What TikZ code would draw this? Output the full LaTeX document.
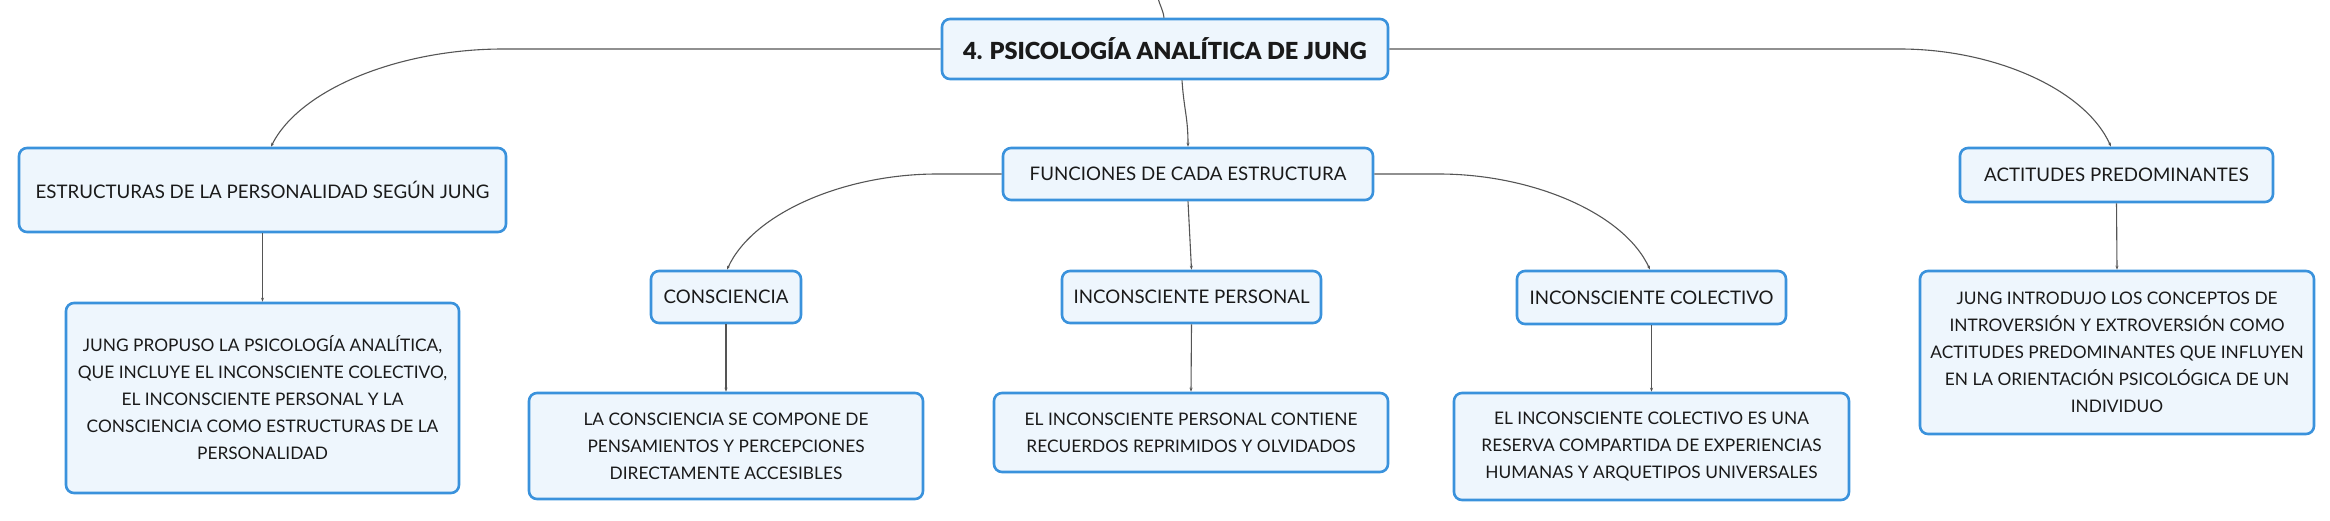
\documentclass[tikz,border=0pt]{standalone}
\usepackage{fontspec}
\setmainfont{Lato}
\newfontfamily\heavyfont{Lato Black}
\usetikzlibrary{arrows.meta}
\definecolor{boxline}{HTML}{3A92DC}
\definecolor{boxfill}{HTML}{EEF6FD}
\definecolor{wire}{HTML}{555555}
\definecolor{ink}{HTML}{1A1A1A}
\begin{document}
\begin{tikzpicture}[x=1pt,y=-1pt,
  topic/.style={draw=boxline, fill=boxfill, line width=2.6pt, rounded corners=8pt,
    text=ink, align=center, inner sep=0pt, anchor=center,
    font=\fontsize{18.7}{27}\selectfont},
  leaf/.style={topic, font=\fontsize{17.3}{27}\selectfont},
  wirestyle/.style={draw=wire, line width=1.1pt, -{Stealth[length=4pt,width=3pt]}}
]
\useasboundingbox (0,0) rectangle (2330,520);

% nodes
\node[topic, minimum width=446pt, minimum height=60pt, font=\fontsize{23.5}{28}\heavyfont] (root) at (1165,49) {4. PSICOLOGÍA ANALÍTICA DE JUNG};
\node[topic, minimum width=370pt, minimum height=52pt] (func) at (1188,174) {FUNCIONES DE CADA ESTRUCTURA};
\node[topic, minimum width=487pt, minimum height=84pt] (estr) at (262.5,190) {ESTRUCTURAS DE LA PERSONALIDAD SEGÚN JUNG};
\node[leaf, minimum width=393pt, minimum height=190pt] (estrc) at (262.5,398) {JUNG PROPUSO LA PSICOLOGÍA ANALÍTICA,\\QUE INCLUYE EL INCONSCIENTE COLECTIVO,\\EL INCONSCIENTE PERSONAL Y LA\\CONSCIENCIA COMO ESTRUCTURAS DE LA\\PERSONALIDAD};
\node[topic, minimum width=150pt, minimum height=52pt] (cons) at (726,297) {CONSCIENCIA};
\node[leaf, minimum width=394pt, minimum height=106pt] (consc) at (726,446) {LA CONSCIENCIA SE COMPONE DE\\PENSAMIENTOS Y PERCEPCIONES\\DIRECTAMENTE ACCESIBLES};
\node[topic, minimum width=259pt, minimum height=52pt] (ip) at (1191.5,297) {INCONSCIENTE PERSONAL};
\node[leaf, minimum width=394pt, minimum height=79pt] (ipc) at (1191,432.5) {EL INCONSCIENTE PERSONAL CONTIENE\\RECUERDOS REPRIMIDOS Y OLVIDADOS};
\node[topic, minimum width=269pt, minimum height=53pt] (ic) at (1651.5,297.5) {INCONSCIENTE COLECTIVO};
\node[leaf, minimum width=395pt, minimum height=107pt] (icc) at (1651.5,446.5) {EL INCONSCIENTE COLECTIVO ES UNA\\RESERVA COMPARTIDA DE EXPERIENCIAS\\HUMANAS Y ARQUETIPOS UNIVERSALES};
\node[topic, minimum width=313pt, minimum height=54pt] (act) at (2116.5,175) {ACTITUDES PREDOMINANTES};
\node[leaf, minimum width=394pt, minimum height=163pt] (actc) at (2117,352.5) {JUNG INTRODUJO LOS CONCEPTOS DE\\INTROVERSIÓN Y EXTROVERSIÓN COMO\\ACTITUDES PREDOMINANTES QUE INFLUYEN\\EN LA ORIENTACIÓN PSICOLÓGICA DE UN\\INDIVIDUO};

% bend coordinates
\coordinate (upper) at (1158,-2);
\coordinate (bl) at (503,49);
\coordinate (br) at (1900,49);
\coordinate (fl) at (937,174);
\coordinate (fr) at (1439,174);

% connectors
\draw[draw=wire, line width=1.1pt] (upper) .. controls +(2,8) and +(-1,-8) .. ([xshift=-1pt]root.north);
\draw[wirestyle] ([xshift=17pt]root.south) .. controls +(2,30) and +(0,-30) .. (func.north);
\draw[wirestyle] (root.west) -- (bl) .. controls +(-103,0) and +(29,-58) .. ([xshift=8.5pt]estr.north);
\draw[wirestyle] (root.east) -- (br) .. controls +(93,0) and +(-26,-58) .. ([xshift=-5.5pt]act.north);
\draw[wirestyle] (func.west) -- (fl) .. controls +(-92,0) and +(26,-57) .. ([xshift=1pt]cons.north);
\draw[wirestyle] (func.east) -- (fr) .. controls +(92,0) and +(-26,-57) .. ([xshift=-1.5pt]ic.north);
\draw[wirestyle] (func.south) -- (ip.north);
\draw[wirestyle] (estr.south) -- (estrc.north);
\draw[wirestyle] (cons.south) -- (consc.north);
\draw[wirestyle] (ip.south) -- (ipc.north);
\draw[wirestyle] (ic.south) -- (icc.north);
\draw[wirestyle] (act.south) -- (actc.north);
\end{tikzpicture}
\end{document}
